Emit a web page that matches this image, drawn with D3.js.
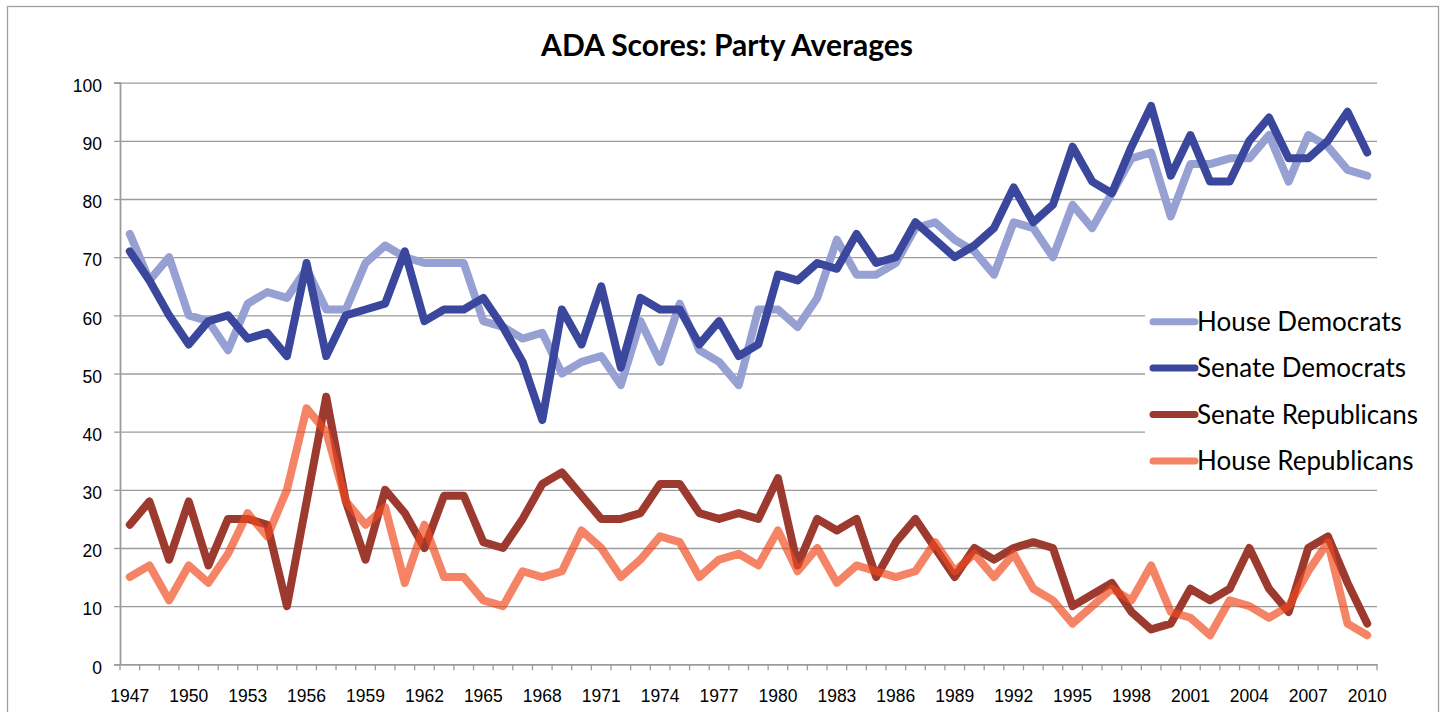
<!DOCTYPE html>
<html>
<head>
<meta charset="utf-8">
<script src="https://cdn.jsdelivr.net/npm/d3@7"></script>
<style>
  body { margin: 0; background: #fff; }
  svg { display: block; font-family: Lato, "Open Sans", sans-serif; }
</style>
</head>
<body>
<script>
var years = [1947, 1948, 1949, 1950, 1951, 1952, 1953, 1954, 1955, 1956,
             1957, 1958, 1959, 1960, 1961, 1962, 1963, 1964, 1965, 1966,
             1967, 1968, 1969, 1970, 1971, 1972, 1973, 1974, 1975, 1976,
             1977, 1978, 1979, 1980, 1981, 1982, 1983, 1984, 1985, 1986,
             1987, 1988, 1989, 1990, 1991, 1992, 1993, 1994, 1995, 1996,
             1997, 1998, 1999, 2000, 2001, 2002, 2003, 2004, 2005, 2006,
             2007, 2008, 2009, 2010];

var houseDemocrats = [74, 66, 70, 60, 59, 54, 62, 64, 63, 68,
                      61, 61, 69, 72, 70, 69, 69, 69, 59, 58,
                      56, 57, 50, 52, 53, 48, 59, 52, 62, 54,
                      52, 48, 61, 61, 58, 63, 73, 67, 67, 69,
                      75, 76, 73, 71, 67, 76, 75, 70, 79, 75,
                      81, 87, 88, 77, 86, 86, 87, 87, 91, 83,
                      91, 89, 85, 84];

var senateDemocrats = [71, 66, 60, 55, 59, 60, 56, 57, 53, 69,
                       53, 60, 61, 62, 71, 59, 61, 61, 63, 58,
                       52, 42, 61, 55, 65, 51, 63, 61, 61, 55,
                       59, 53, 55, 67, 66, 69, 68, 74, 69, 70,
                       76, 73, 70, 72, 75, 82, 76, 79, 89, 83,
                       81, 89, 96, 84, 91, 83, 83, 90, 94, 87,
                       87, 90, 95, 88];

var senateRepublicans = [24, 28, 18, 28, 17, 25, 25, 24, 10, 28,
                         46, 28, 18, 30, 26, 20, 29, 29, 21, 20,
                         25, 31, 33, 29, 25, 25, 26, 31, 31, 26,
                         25, 26, 25, 32, 17, 25, 23, 25, 15, 21,
                         25, 20, 15, 20, 18, 20, 21, 20, 10, 12,
                         14, 9, 6, 7, 13, 11, 13, 20, 13, 9,
                         20, 22, 14, 7];

var houseRepublicans = [15, 17, 11, 17, 14, 19, 26, 22, 30, 44,
                        40, 28, 24, 27, 14, 24, 15, 15, 11, 10,
                        16, 15, 16, 23, 20, 15, 18, 22, 21, 15,
                        18, 19, 17, 23, 16, 20, 14, 17, 16, 15,
                        16, 21, 16, 19, 15, 19, 13, 11, 7, 10,
                        13, 11, 17, 9, 8, 5, 11, 10, 8, 10,
                        16, 21, 7, 5];

var seriesNames = ["House Democrats", "Senate Democrats", "Senate Republicans", "House Republicans"];
var seriesValues = [houseDemocrats, senateDemocrats, senateRepublicans, houseRepublicans];
var yTicks = [0, 10, 20, 30, 40, 50, 60, 70, 80, 90, 100];
var xLabelYears = [1947, 1950, 1953, 1956, 1959, 1962, 1965, 1968, 1971, 1974, 1977,
                   1980, 1983, 1986, 1989, 1992, 1995, 1998, 2001, 2004, 2007, 2010];

var colors = ["#97a0d3", "#3b479d", "#9d3a2f", "rgb(240,72,28)"];
var opacities = [1, 1, 1, 0.68];

var width = 1445, height = 712;
var margin = {top: 82.7, right: 68, bottom: 47.7, left: 120};
var plotW = width - margin.left - margin.right,
    plotH = height - margin.top - margin.bottom;

var svg = d3.select("body").append("svg")
    .attr("width", width)
    .attr("height", height);

// outer chart frame
svg.append("rect")
    .attr("x", 7.5).attr("y", 6.5)
    .attr("width", 1431).attr("height", 720)
    .style("fill", "none")
    .style("stroke", "#a0a0a0")
    .style("stroke-width", 1.3);

svg.append("text")
    .attr("x", 727)
    .attr("y", 56)
    .attr("text-anchor", "middle")
    .style("font-size", "30px")
    .style("font-weight", "bold")
    .text("ADA Scores: Party Averages");

var g = svg.append("g")
    .attr("transform", "translate(" + margin.left + "," + margin.top + ")");

var x = d3.scaleBand().domain(years).range([0, plotW]);
var y = d3.scaleLinear().domain([0, 100]).range([plotH, 0]);

// gridlines
g.append("g")
    .attr("class", "grid")
    .call(d3.axisLeft(y).tickValues(yTicks.slice(1)).tickSize(-plotW).tickFormat(""))
    .call(function(s) { s.select(".domain").remove(); })
    .selectAll("line")
        .style("stroke", "#9c9c9c")
        .style("stroke-width", 1.3);

// y axis
var yAxis = g.append("g")
    .call(d3.axisLeft(y).tickValues(yTicks).tickSize(6).tickPadding(12));
yAxis.select(".domain").style("stroke", "#9c9c9c").style("stroke-width", 1.8);
yAxis.selectAll(".tick line").style("stroke", "#9c9c9c").style("stroke-width", 1.3);
yAxis.selectAll("text")
    .style("font-size", "17.5px")
    .style("fill", "#000")
    .attr("dy", "0.5em");

// x axis labels (every third year)
var xAxis = g.append("g")
    .attr("transform", "translate(0," + plotH + ")")
    .call(d3.axisBottom(x).tickValues(xLabelYears).tickSize(0).tickPadding(25));
xAxis.select(".domain").style("stroke", "#9c9c9c").style("stroke-width", 1.8);
xAxis.selectAll("text")
    .style("font-size", "17.5px")
    .style("fill", "#000");

// x tick marks on band edges
var edges = years.map(function(d) { return x(d); }).concat([plotW]);
xAxis.selectAll(".edge")
    .data(edges)
    .enter().append("line")
    .attr("class", "edge")
    .attr("x1", function(d) { return d; })
    .attr("x2", function(d) { return d; })
    .attr("y1", 0)
    .attr("y2", 6)
    .style("stroke", "#9c9c9c")
    .style("stroke-width", 1.3);

var line = d3.line()
    .x(function(d, i) { return x(years[i]) + x.bandwidth() / 2; })
    .y(function(d) { return y(d); });

g.selectAll(".series")
    .data(seriesValues)
    .enter().append("path")
    .attr("class", "series")
    .attr("d", line)
    .style("fill", "none")
    .style("stroke", function(d, i) { return colors[i]; })
    .style("stroke-opacity", function(d, i) { return opacities[i]; })
    .style("stroke-width", 8)
    .style("stroke-linejoin", "round")
    .style("stroke-linecap", "round");

//Legend
var legendG = svg.append("g").attr("transform", "translate(1145,292)");
legendG.append("rect")
    .attr("width", 291)
    .attr("height", 195)
    .style("fill", "#fff");

var legend = legendG.selectAll(".legend")
    .data(seriesNames)
    .enter().append("g")
    .attr("class", "legend")
    .attr("transform", function(d, i) { return "translate(0," + (29.7 + i * 46.4) + ")"; });

legend.append("line")
    .attr("x1", 8).attr("x2", 50)
    .attr("y1", 0).attr("y2", 0)
    .style("stroke", function(d, i) { return colors[i]; })
    .style("stroke-opacity", function(d, i) { return opacities[i]; })
    .style("stroke-width", 7)
    .style("stroke-linecap", "round");

legend.append("text")
    .attr("x", 52)
    .attr("y", 0)
    .attr("dy", ".35em")
    .style("font-size", "26px")
    .text(function(d) { return d; });
</script>
</body>
</html>
